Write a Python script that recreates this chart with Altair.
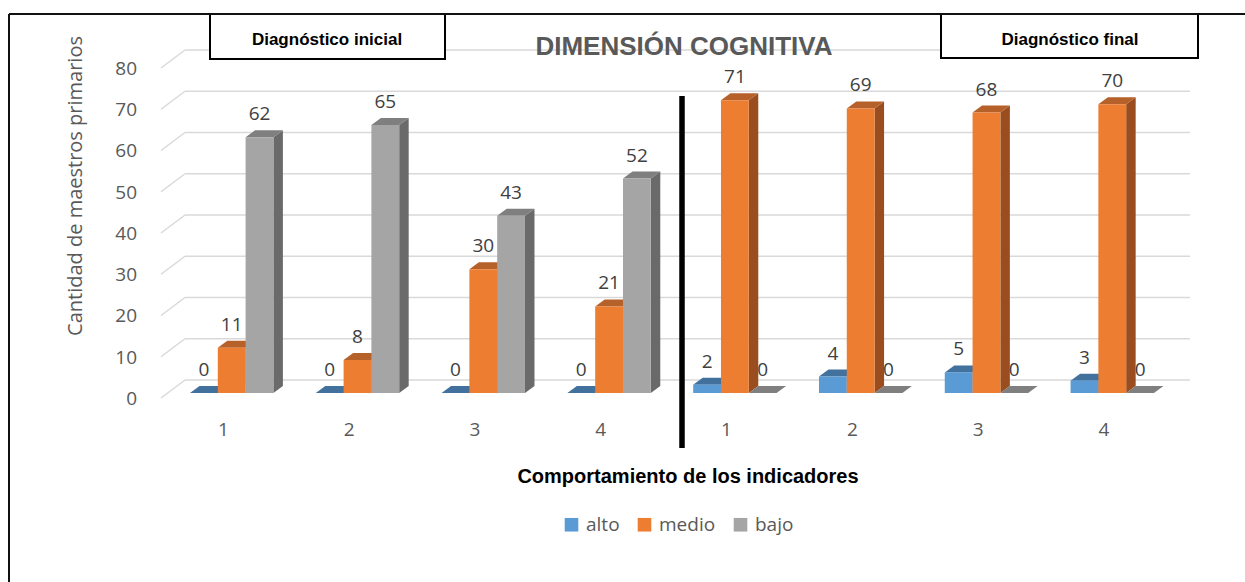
import altair as alt
import pandas as pd

# Indicator labels (initial diagnosis, then final diagnosis) and counts per level
indicadores = ["1", "2", "3", "4", "1", "2", "3", "4"]
alto = [0, 0, 0, 0, 2, 4, 5, 3]
medio = [11, 8, 30, 21, 71, 69, 68, 70]
bajo = [62, 65, 43, 52, 0, 0, 0, 0]
niveles = ["alto", "medio", "bajo"]
ticks_y = [0, 10, 20, 30, 40, 50, 60, 70, 80]

# Face colours of the 3-D columns: front, top and right side
color_frente = ["#5B9BD5", "#ED7D31", "#A5A5A5"]
color_techo = ["#41719C", "#B6602A", "#7F7F7F"]
color_lado = ["#3D6B96", "#9A4E1F", "#6A6A6A"]

GRIS_TEXTO = "#595959"
W, H = 1245, 582

# Scale geometry: one x unit = one column width, y unit = one teacher
PX_UNIT = 27.8
ORIGEN_X = 190
PX_VAL = 4.125
BASE_Y = 393
PASO = 4.525                 # distance between indicator groups, in column widths
PROF_X = 9.5 / PX_UNIT       # depth of the columns (oblique projection)
PROF_Y = 7 / PX_VAL
PISO_ATRAS = 13 / PX_VAL     # back wall offset of the gridlines
PISO_FRENTE = -5 / PX_VAL    # front edge of the floor
X_FRENTE = -29 / PX_UNIT
X_ATRAS = -5 / PX_UNIT
X_FIN = 1000 / PX_UNIT

xs = alt.Scale(domain=[-ORIGEN_X / PX_UNIT, (W - ORIGEN_X) / PX_UNIT], nice=False, zero=False)
ys = alt.Scale(domain=[-(H - BASE_Y) / PX_VAL, BASE_Y / PX_VAL], nice=False, zero=False)

series = [alto, medio, bajo]
barras, lados, techos = [], [], []
for g, _ in enumerate(indicadores):
    for s, nivel in enumerate(niveles):
        v = series[s][g]
        x0 = g * PASO + s
        x1 = x0 + 1
        bid = f"{g}-{s}"
        barras.append(dict(id=bid, nivel=nivel, v=v, base=0, x0=x0, x1=x1, xm=x0 + 0.5))
        lados.append(dict(id=bid, c=color_lado[s], x=x1, ylo=0, yhi=v))
        lados.append(dict(id=bid, c=color_lado[s], x=x1 + PROF_X, ylo=PROF_Y, yhi=v + PROF_Y))
        techos.append(dict(id=bid, c=color_techo[s], y=v, xa=x0, xb=x1))
        techos.append(dict(id=bid, c=color_techo[s], y=v + PROF_Y, xa=x0 + PROF_X, xb=x1 + PROF_X))

df_barras = pd.DataFrame(barras)
df_lados = pd.DataFrame(lados)
df_techos = pd.DataFrame(techos)

df_grid = pd.DataFrame({
    "t": ticks_y,
    "xf": [X_FRENTE] * len(ticks_y),
    "xb": [X_ATRAS] * len(ticks_y),
    "xe": [X_FIN] * len(ticks_y),
    "yf": [t + PISO_FRENTE for t in ticks_y],
    "yb": [t + PISO_ATRAS for t in ticks_y],
    "yl": [t - 1.45 for t in ticks_y],
    "xl": [-53 / PX_UNIT] * len(ticks_y),
})

df_cat = pd.DataFrame({
    "lab": indicadores,
    "x": [g * PASO + 1.2 for g in range(len(indicadores))],
    "y": [-37 / PX_VAL] * len(indicadores),
})

X = lambda f: alt.X(f, scale=xs, axis=None)
Y = lambda f: alt.Y(f, scale=ys, axis=None, stack=None)

# Gridlines on the back wall, with the oblique floor stub on the left
grid_oblicua = alt.Chart(df_grid).mark_rule(color="#D9D9D9", strokeWidth=1.5).encode(
    x=X("xf:Q"), x2="xb:Q", y=Y("yf:Q"), y2="yb:Q")
grid_fondo = alt.Chart(df_grid).mark_rule(color="#D9D9D9", strokeWidth=1.5).encode(
    x=X("xb:Q"), x2="xe:Q", y=Y("yb:Q"))

etiquetas_y = alt.Chart(df_grid).mark_text(
    font="Open Sans", fontSize=19, color=GRIS_TEXTO, align="right", baseline="middle"
).encode(x=X("xl:Q"), y=Y("yl:Q"), text="t:Q")

etiquetas_x = alt.Chart(df_cat).mark_text(
    font="Open Sans", fontSize=19, color=GRIS_TEXTO, align="center", baseline="middle"
).encode(x=X("x:Q"), y=Y("y:Q"), text="lab:N")

# 3-D columns: side faces, top faces, then front faces
caras_lado = alt.Chart(df_lados).mark_area(orient="vertical").encode(
    x=X("x:Q"), y=Y("yhi:Q"), y2="ylo:Q",
    fill=alt.Fill("c:N", scale=None), detail="id:N")

caras_techo = alt.Chart(df_techos).mark_area(orient="horizontal").encode(
    y=Y("y:Q"), x=alt.X("xa:Q", scale=xs, axis=None, stack=None), x2="xb:Q",
    fill=alt.Fill("c:N", scale=None), detail="id:N")

caras_frente = alt.Chart(df_barras).mark_rect().encode(
    x=X("x0:Q"), x2="x1:Q", y=Y("v:Q"), y2="base:Q",
    color=alt.Color(
        "nivel:N",
        scale=alt.Scale(domain=niveles, range=color_frente),
        legend=alt.Legend(
            orient="none", legendX=562, legendY=515, direction="horizontal", title=None,
            symbolType="square", symbolSize=185, symbolStrokeWidth=0,
            labelFont="Open Sans", labelFontSize=19, labelColor=GRIS_TEXTO,
            labelOffset=5, columnPadding=15, padding=0,
        ),
    ),
)

valores = alt.Chart(df_barras).mark_text(
    font="Open Sans", fontSize=19, color="#404040", baseline="middle", yOffset=-23
).encode(x=X("xm:Q"), y=Y("v:Q"), text="v:Q")

uno = pd.DataFrame({"k": [0]})

separador = alt.Chart(uno).mark_rule(color="black", strokeWidth=5.5).encode(
    x=alt.value(682), y=alt.value(96), y2=alt.value(448))

borde_sup = alt.Chart(uno).mark_rule(color="#111111", strokeWidth=2).encode(
    x=alt.value(9), x2=alt.value(W), y=alt.value(14))
borde_izq = alt.Chart(uno).mark_rule(color="#111111", strokeWidth=2).encode(
    x=alt.value(9), y=alt.value(14), y2=alt.value(H))

caja_ini = alt.Chart(uno).mark_rect(fill="white", stroke="black", strokeWidth=2).encode(
    x=alt.value(210), x2=alt.value(445), y=alt.value(14), y2=alt.value(59))
caja_fin = alt.Chart(uno).mark_rect(fill="white", stroke="black", strokeWidth=2).encode(
    x=alt.value(941), x2=alt.value(1198), y=alt.value(14), y2=alt.value(58))

def texto(t, x, y, size, color, bold=True, font="Liberation Sans", angle=0, baseline="alphabetic"):
    kw = dict(text=t, font=font, fontSize=size, color=color, align="center", baseline=baseline)
    if bold:
        kw["fontWeight"] = "bold"
    if angle:
        kw["angle"] = angle
    return alt.Chart(uno).mark_text(**kw).encode(x=alt.value(x), y=alt.value(y))

txt_ini = texto("Diagnóstico inicial", 327, 45, 17, "black")
txt_fin = texto("Diagnóstico final", 1070, 45, 17, "black")
titulo = texto("DIMENSIÓN COGNITIVA", 684, 55, 26, GRIS_TEXTO)
titulo_x = texto("Comportamiento de los indicadores", 688, 483, 20, "black")
titulo_y = texto("Cantidad de maestros primarios", 76, 186, 20, GRIS_TEXTO, bold=False,
                 font="Open Sans", angle=270, baseline="middle")

chart = alt.layer(
    grid_oblicua, grid_fondo, etiquetas_y, etiquetas_x,
    caras_lado, caras_techo, caras_frente, valores,
    separador, caja_ini, caja_fin, borde_sup, borde_izq,
    txt_ini, txt_fin, titulo, titulo_x, titulo_y,
).properties(
    width=W, height=H, autosize=alt.AutoSizeParams(type="none"), padding=0,
    background="white",
).configure_view(stroke=None)

chart.save("out.html", embed_options={"renderer": "svg", "actions": False})
